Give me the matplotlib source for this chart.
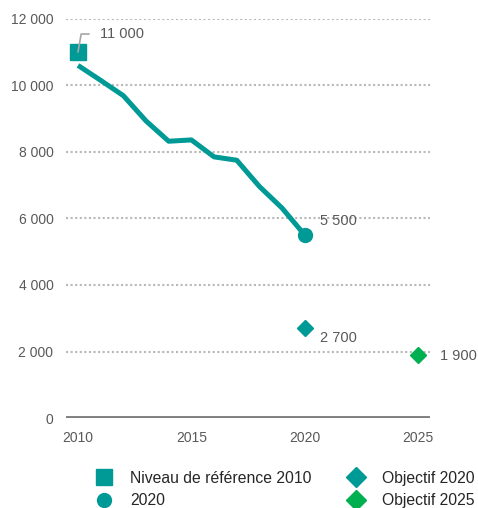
import numpy as np
import matplotlib.pyplot as plt

years = [2010, 2011, 2012, 2013, 2014, 2015, 2016, 2017, 2018, 2019, 2020]
values = [10600, 10150, 9690, 8930, 8320, 8360, 7850, 7750, 6960, 6310, 5500]

ref_year, ref_value = 2010, 11000
obj2020_year, obj2020_value = 2020, 2700
obj2025_year, obj2025_value = 2025, 1900

yticks = [0, 2000, 4000, 6000, 8000, 10000, 12000]
ytick_labels = ['0', '2 000', '4 000', '6 000', '8 000', '10 000', '12 000']
xticks = [2010, 2015, 2020, 2025]

teal = '#009a96'
green = '#00b050'
txt = '#595959'

plt.rcParams['font.family'] = ['Liberation Sans', 'DejaVu Sans']
plt.rcParams['font.size'] = 10

fig = plt.figure(figsize=(4.78, 5.08), dpi=100)
ax = fig.add_axes([0.138, 0.177, 0.762, 0.786])

ax.plot(years, values, color=teal, lw=3.6, solid_capstyle='butt', zorder=3)
ax.plot(years[-1], values[-1], 'o', color=teal, ms=10, zorder=4, clip_on=False)
ax.plot(ref_year, ref_value, 's', color=teal, ms=11, zorder=4, clip_on=False)
ax.plot(obj2020_year, obj2020_value, 'D', color=teal, ms=8, zorder=4)
ax.plot(obj2025_year, obj2025_value, 'D', color=green, ms=8, zorder=4, clip_on=False)

ax.annotate('11 000', xy=(ref_year, ref_value), xytext=(16, 13), textcoords='offset points',
            color=txt, va='center', ha='left', fontsize=10.5, zorder=5,
            arrowprops=dict(arrowstyle='-', color='#a6a6a6', lw=1.2, shrinkA=6, shrinkB=0,
                            relpos=(0, 0.5),
                            connectionstyle='angle,angleA=0,angleB=80,rad=0'))
ax.annotate('5 500', xy=(years[-1], values[-1]), xytext=(11, 10), textcoords='offset points',
            color=txt, va='center', ha='left', fontsize=10.5)
ax.annotate('2 700', xy=(obj2020_year, obj2020_value), xytext=(11, -7), textcoords='offset points',
            color=txt, va='center', ha='left', fontsize=10.5)
ax.annotate('1 900', xy=(obj2025_year, obj2025_value), xytext=(16, -1), textcoords='offset points',
            color=txt, va='center', ha='left', fontsize=10.5)

ax.set_xlim(2009.47, 2025.53)
ax.set_ylim(0, 12000)
ax.set_yticks(yticks)
ax.set_yticklabels(ytick_labels)
ax.set_xticks(xticks)
ax.tick_params(length=0, colors=txt, labelsize=10)
ax.tick_params(axis='y', pad=9)
ax.tick_params(axis='x', pad=9)

for y in yticks[1:]:
    ax.axhline(y, color='#b8b8b8', lw=1.5, ls=(0, (1, 1.2)), zorder=1)
ax.axhline(0, color='#7f7f7f', lw=2.8, zorder=2)
for s in ax.spines.values():
    s.set_visible(False)

handles = [
    plt.Line2D([], [], marker='s', color=teal, ls='none', ms=11),
    plt.Line2D([], [], marker='o', color=teal, ls='none', ms=10),
    plt.Line2D([], [], marker='D', color=teal, ls='none', ms=10),
    plt.Line2D([], [], marker='D', color=green, ls='none', ms=10),
]
labels = ['Niveau de référence 2010', '2020', 'Objectif 2020', 'Objectif 2025']
leg = fig.legend(handles, labels, ncol=2, loc='upper left', bbox_to_anchor=(0.198, 0.073),
                 frameon=False, prop={'size': 11.3}, handlelength=1.2, handletextpad=1.06,
                 columnspacing=2.25, labelspacing=0.47, borderaxespad=0, borderpad=0)
for t in leg.get_texts():
    t.set_color('#262626')

fig.savefig('out.png', dpi=100)
